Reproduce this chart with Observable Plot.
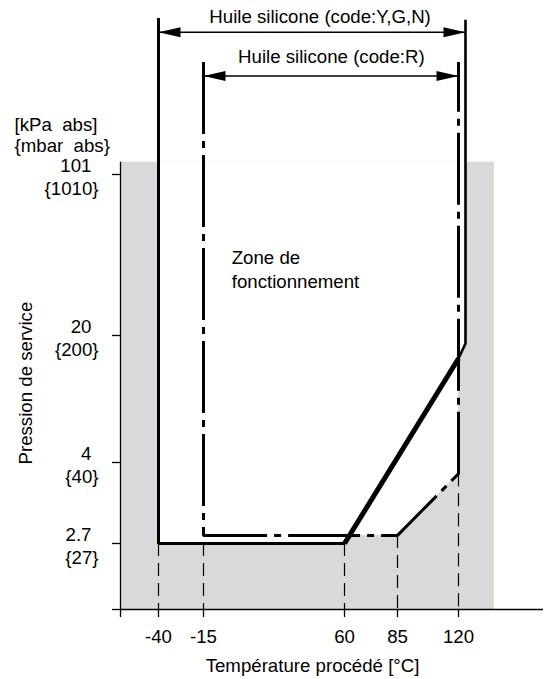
<!DOCTYPE html>
<html><head><meta charset="utf-8">
<script src="https://cdn.jsdelivr.net/npm/d3@7"></script>
<script src="https://cdn.jsdelivr.net/npm/@observablehq/plot@0.6"></script>
<style>
html,body{margin:0;padding:0;background:#fff;overflow:hidden}
svg text{white-space:pre}
</style></head><body><div id="chart"></div>
<script>
// ---- data ----
const xTicks = [-40, -15, 60, 85, 120];
const yTicks = [2.7, 4, 20, 101];
const yTickKpa = ["2.7", "4", "20", "101"];
const yTickMbar = ["{27}", "{40}", "{200}", "{1010}"];

// Operating envelope, silicone oil code Y,G,N
const ygnX = [-40, -40, 60];
const ygnY = [190, 2.7, 2.7];
const ygnDiagX = [60, 120];
const ygnDiagY = [2.7, 17.1];
const ygnRightX = [120, 123.7, 123.7];
const ygnRightY = [17.1, 19, 189];
// Operating envelope, silicone oil code R
const rX = [-15, -15, 85, 120, 120];
const rY = [165, 2.83, 2.83, 3.82, 165];
// lower edge of the combined operating zone (white area)
const zoneX = [-40, 60, 62.3, 85, 120, 120, 123.7];
const zoneY = [2.7, 2.7, 2.83, 2.83, 3.82, 17.1, 19];
// dashed guides down to the temperature axis
const guideX = [-40, -15, 60, 85, 120];
const guideTop = [2.7, 2.7, 2.7, 2.83, 3.82];
// range arrows
const arrowLabels = ["Huile silicone (code:Y,G,N)", "Huile silicone (code:R)"];
const arrowFrom = [-40, -15];
const arrowTo = [123.7, 120];
const arrowY = [182, 157];
const labelX = [47, 53];
const labelY = [190.5, 167.8];
// grey non-operating background
const greyBox = [{x1: -60, x2: 139, y1: 0, y2: 108}];

const zoneText = "Zone de\nfonctionnement";
const unitText = "[kPa  abs]\n{mbar  abs}";
const yTitle = "Pression de service";
const xTitle = "Température procédé [°C]";

// schematic (non-uniform) scales
const xKnots = [-60, -40, -15, 60, 85, 120, 165];
const yKnots = [0, 2.7, 4, 20, 101, 200];

const pts = (xs, ys) => xs.map((x, i) => ({x, y: ys[i]}));
const arrowHead = {
  draw(ctx) {
    ctx.moveTo(0, 0); ctx.lineTo(22, -5); ctx.lineTo(22, 5); ctx.closePath();
  }
};
const heads = [
  ...arrowFrom.map((x, i) => ({x, y: arrowY[i], rot: 0})),
  ...arrowTo.map((x, i) => ({x, y: arrowY[i], rot: 180}))
];
const arrows = arrowLabels.map((t, i) => ({t, x1: arrowFrom[i], x2: arrowTo[i], y: arrowY[i], lx: labelX[i], ly: labelY[i]}));
const guides = guideX.map((x, i) => ({x, top: guideTop[i]}));
const yLab = yTicks.map((v, i) => ({v, kpa: yTickKpa[i], mbar: yTickMbar[i]}));

const FS = 18.67;
const lineOpts = {x: "x", y: "y", stroke: "black", strokeLinejoin: "miter", strokeLinecap: "butt"};

const chart = Plot.plot({
  width: 549, height: 679,
  marginLeft: 120, marginRight: 6, marginTop: 0, marginBottom: 70,
  style: {fontFamily: '"Liberation Sans", Arial, sans-serif', fontSize: FS + "px", color: "black", background: "white"},
  x: {type: "linear", domain: xKnots, range: [120, 158, 203, 344, 397, 458, 543]},
  y: {type: "linear", domain: yKnots, range: [609, 543, 462, 335, 174, 0]},
  marks: [
    Plot.rect(greyBox, {x1: "x1", x2: "x2", y1: "y1", y2: "y2", fill: "#d9d9db"}),
    Plot.areaY(pts(zoneX, zoneY), {x: "x", y1: "y", y2: () => 108, fill: "white", curve: "linear"}),
    Plot.ruleX(guides, {x: "x", y1: "top", y2: () => 0, stroke: "black", strokeWidth: 1.2, strokeDasharray: "13,7"}),
    Plot.ruleY([0], {x1: xKnots[0], x2: xKnots[xKnots.length - 1], stroke: "black", strokeWidth: 1.3}),
    Plot.ruleX([xKnots[0]], {y1: 0, y2: 108, stroke: "black", strokeWidth: 1.3}),
    Plot.axisX([xKnots[0], ...xTicks], {tickSize: 8, tickPadding: 12, fontSize: FS, label: null, strokeWidth: 1.3,
      tickFormat: d => d === xKnots[0] ? "" : String(d)}),
    Plot.axisY([0, ...yTicks], {tickSize: 8, label: null, strokeWidth: 1.3, tickFormat: () => ""}),
    Plot.text(yLab, {y: "v", text: "kpa", frameAnchor: "left", textAnchor: "end", dx: -29, dy: -8, fontSize: FS}),
    Plot.text(yLab, {y: "v", text: "mbar", frameAnchor: "left", textAnchor: "end", dx: -22, dy: 15, fontSize: FS}),
    Plot.line(pts(rX, rY), {...lineOpts, strokeWidth: 3, strokeDasharray: "72,7,7,7"}),
    Plot.line(pts(ygnX, ygnY), {...lineOpts, strokeWidth: 3}),
    Plot.line(pts(ygnDiagX, ygnDiagY), {...lineOpts, strokeWidth: 5}),
    Plot.line(pts(ygnRightX, ygnRightY), {...lineOpts, strokeWidth: 2.6}),
    Plot.ruleY(arrows, {x1: "x1", x2: "x2", y: "y", stroke: "black", strokeWidth: 1.5}),
    Plot.dot(heads, {x: "x", y: "y", symbol: arrowHead, rotate: "rot", fill: "black", stroke: "none"}),
    Plot.text(arrows, {x: "lx", y: "ly", text: "t", fontSize: FS}),
    Plot.text([zoneText], {x: () => 0, y: () => 53.7, text: d => d, textAnchor: "start", lineHeight: 1.3, fontSize: FS}),
    Plot.text([unitText], {x: () => xKnots[0], y: () => 123.5, text: d => d, textAnchor: "start", dx: -106, lineHeight: 1.12, fontSize: FS}),
    Plot.text([yTitle], {x: () => xKnots[0], y: () => 14, text: d => d, rotate: -90, dx: -94, fontSize: FS}),
    Plot.text([xTitle], {x: () => 43, y: () => -2.3, text: d => d, fontSize: FS})
  ]
});
document.getElementById("chart").appendChild(chart);
</script></body></html>
